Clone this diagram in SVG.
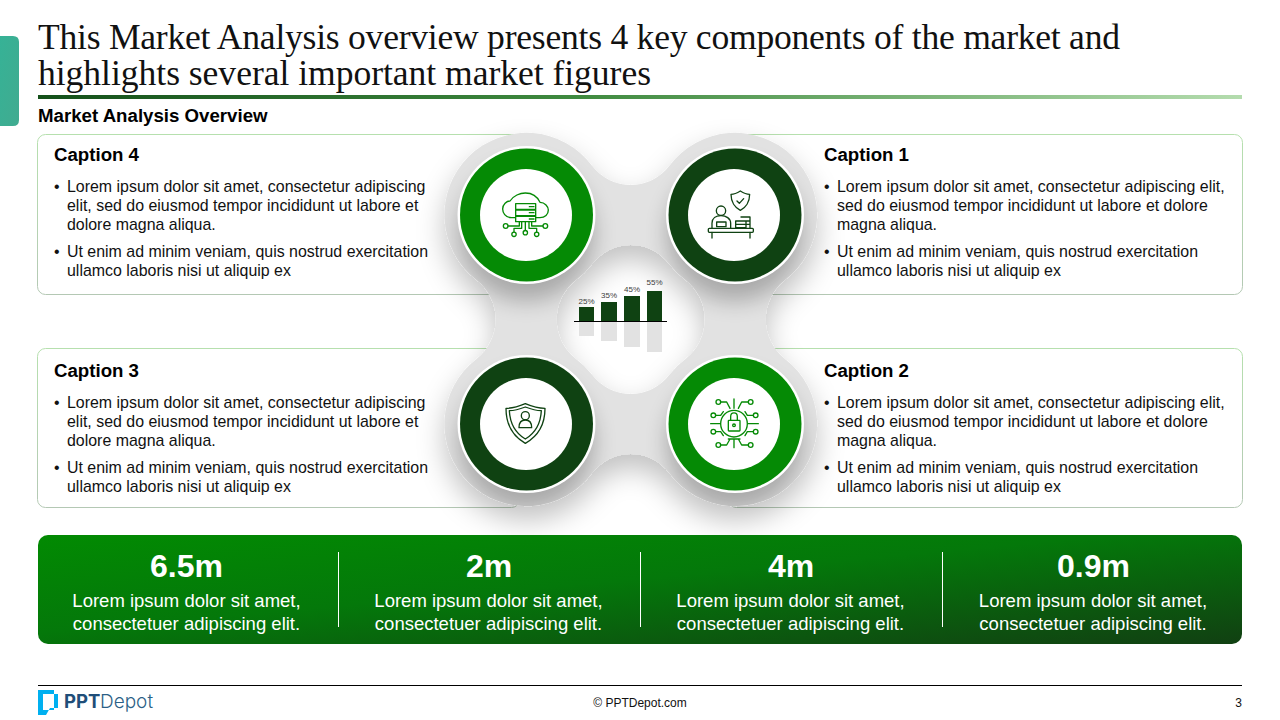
<svg xmlns="http://www.w3.org/2000/svg" width="1280" height="720" viewBox="0 0 1280 720">
<style>
text{font-family:"Liberation Sans",Arial,sans-serif;fill:#111}
.title{font-family:"Liberation Serif","Times New Roman",serif;font-size:35.600px;fill:#111}
.sub{font-size:18.670px;font-weight:700;fill:#000}
.cap{font-size:18.670px;font-weight:700;fill:#000}
.body{font-size:15.930px}
.num{font-size:32px;font-weight:700;fill:#fff;text-anchor:middle}
.stat{font-size:18.500px;fill:#fff;text-anchor:middle}
.pct{font-size:8px;fill:#404040;text-anchor:middle}
.card{fill:#fff;stroke:url(#cardStroke);stroke-width:1}
.bar{fill:#0f4212}
.ref{fill:#e2e2e2}
.sep{stroke:#fff;stroke-width:1}
.ln{fill:none;stroke-width:4;stroke-linejoin:round;stroke-linecap:round}
.g{stroke:#058a05}
.d{stroke:#0f4212}
</style>
<defs>
<linearGradient id="rule" x1="0" x2="1" y1="0" y2="0"><stop offset="0" stop-color="#14501a"/><stop offset=".45" stop-color="#3f8a3f"/><stop offset="1" stop-color="#b4dcae"/></linearGradient>
<linearGradient id="tab" x1="0" x2="1" y1="0" y2="1"><stop offset="0" stop-color="#36b296"/><stop offset="1" stop-color="#41ab90"/></linearGradient>
<linearGradient id="cardStroke" x1="0" x2="0" y1="0" y2="1"><stop offset="0" stop-color="#b6e0ae"/><stop offset="1" stop-color="#b4c8b4"/></linearGradient>
<linearGradient id="band" x1="0" x2="1" y1="0" y2="1"><stop offset="0" stop-color="#028a02"/><stop offset=".45" stop-color="#04780a"/><stop offset="1" stop-color="#114012"/></linearGradient>
<filter id="hubShadow" x="-30%" y="-30%" width="160%" height="170%"><feDropShadow dx="0" dy="14" stdDeviation="14" flood-color="#000" flood-opacity=".24"/></filter>
<filter id="soft" x="-40%" y="-40%" width="180%" height="180%"><feGaussianBlur stdDeviation="11"/></filter>
<clipPath id="hubClip"><path clip-rule="evenodd" d="M592 165.700A48.500 48.500 0 0 0 669.500 165.700A82 82 0 1 1 785.200 279.800A50.200 50.200 0 0 0 785.200 359.200A82 82 0 1 1 669.500 473.300A48.500 48.500 0 0 0 592 473.300A82 82 0 1 1 476.300 359.200A50.200 50.200 0 0 0 476.300 279.800A82 82 0 1 1 592 165.700ZM592 264.300A48.500 48.500 0 0 1 669.500 264.300A82 82 0 0 0 685.300 279.800A50 50 0 0 1 685.300 359.200A82 82 0 0 0 669.500 374.700A48.500 48.500 0 0 1 592 374.700A82 82 0 0 0 576.200 359.200A50 50 0 0 1 576.200 279.800A82 82 0 0 0 592 264.300Z"/></clipPath>
</defs>
<rect width="1280" height="720" fill="#fff"/>
<path d="M0 36H13Q19 36 19 42V120Q19 126 13 126H0Z" fill="url(#tab)"/>
<g id="header">
<text class="title" x="38" y="49" textLength="1082" lengthAdjust="spacing">This Market Analysis overview presents 4 key components of the market and</text>
<text class="title" x="38" y="85" textLength="613" lengthAdjust="spacing">highlights several important market figures</text>
<rect x="38" y="95" width="1204" height="4" fill="url(#rule)"/>
<text class="sub" x="38" y="122">Market Analysis Overview</text>
</g>
<g id="caption-4">
<rect class="card" x="37.500" y="134.500" width="482" height="160" rx="8"/>
<text class="cap" x="54" y="161">Caption 4</text>
<g class="body"><text x="54" y="192">•</text><text x="67" y="192">Lorem ipsum dolor sit amet, consectetur adipiscing</text><text x="67" y="211">elit, sed do eiusmod tempor incididunt ut labore et</text><text x="67" y="230">dolore magna aliqua.</text><text x="54" y="257">•</text><text x="67" y="257">Ut enim ad minim veniam, quis nostrud exercitation</text><text x="67" y="276">ullamco laboris nisi ut aliquip ex</text></g>
</g>
<g id="caption-1">
<rect class="card" x="728.500" y="134.500" width="514" height="160" rx="8"/>
<text class="cap" x="824" y="161">Caption 1</text>
<g class="body"><text x="824" y="192">•</text><text x="837" y="192">Lorem ipsum dolor sit amet, consectetur adipiscing elit,</text><text x="837" y="211">sed do eiusmod tempor incididunt ut labore et dolore</text><text x="837" y="230">magna aliqua.</text><text x="824" y="257">•</text><text x="837" y="257">Ut enim ad minim veniam, quis nostrud exercitation</text><text x="837" y="276">ullamco laboris nisi ut aliquip ex</text></g>
</g>
<g id="caption-3">
<rect class="card" x="37.500" y="348.500" width="482" height="159" rx="8"/>
<text class="cap" x="54" y="377">Caption 3</text>
<g class="body"><text x="54" y="408">•</text><text x="67" y="408">Lorem ipsum dolor sit amet, consectetur adipiscing</text><text x="67" y="427">elit, sed do eiusmod tempor incididunt ut labore et</text><text x="67" y="446">dolore magna aliqua.</text><text x="54" y="473">•</text><text x="67" y="473">Ut enim ad minim veniam, quis nostrud exercitation</text><text x="67" y="492">ullamco laboris nisi ut aliquip ex</text></g>
</g>
<g id="caption-2">
<rect class="card" x="728.500" y="348.500" width="514" height="159" rx="8"/>
<text class="cap" x="824" y="377">Caption 2</text>
<g class="body"><text x="824" y="408">•</text><text x="837" y="408">Lorem ipsum dolor sit amet, consectetur adipiscing elit,</text><text x="837" y="427">sed do eiusmod tempor incididunt ut labore et dolore</text><text x="837" y="446">magna aliqua.</text><text x="824" y="473">•</text><text x="837" y="473">Ut enim ad minim veniam, quis nostrud exercitation</text><text x="837" y="492">ullamco laboris nisi ut aliquip ex</text></g>
</g>
<g id="hub">
<path filter="url(#hubShadow)" fill="#e2e2e2" fill-rule="evenodd" d="M592 165.700A48.500 48.500 0 0 0 669.500 165.700A82 82 0 1 1 785.200 279.800A50.200 50.200 0 0 0 785.200 359.200A82 82 0 1 1 669.500 473.300A48.500 48.500 0 0 0 592 473.300A82 82 0 1 1 476.300 359.200A50.200 50.200 0 0 0 476.300 279.800A82 82 0 1 1 592 165.700ZM592 264.300A48.500 48.500 0 0 1 669.500 264.300A82 82 0 0 0 685.300 279.800A50 50 0 0 1 685.300 359.200A82 82 0 0 0 669.500 374.700A48.500 48.500 0 0 1 592 374.700A82 82 0 0 0 576.200 359.200A50 50 0 0 1 576.200 279.800A82 82 0 0 0 592 264.300Z"/>
<g clip-path="url(#hubClip)"><g filter="url(#soft)" fill="#000" opacity=".25">
<circle cx="526.500" cy="233" r="68"/><circle cx="735" cy="233" r="68"/><circle cx="526.500" cy="442" r="68"/><circle cx="735" cy="442" r="68"/></g></g>
</g>
<g id="chart">
<rect class="bar" x="579" y="307" width="15" height="14"/><rect class="bar" x="601" y="302" width="16" height="19"/><rect class="bar" x="624" y="296" width="16" height="25"/><rect class="bar" x="647" y="291" width="15" height="30"/>
<rect class="ref" x="579" y="322" width="15" height="14"/><rect class="ref" x="601" y="322" width="16" height="19"/><rect class="ref" x="624" y="322" width="16" height="25"/><rect class="ref" x="647" y="322" width="15" height="30"/>
<rect x="574" y="321" width="93" height="1" fill="#000"/>
<text class="pct" x="586.500" y="304">25%</text><text class="pct" x="609" y="297.500">35%</text><text class="pct" x="632" y="291.500">45%</text><text class="pct" x="654.500" y="285">55%</text>
</g>
<g id="ring-4">
<circle cx="526.500" cy="215" r="69" fill="#fff"/><circle cx="526.500" cy="215" r="66.500" fill="#058a05"/><circle cx="526" cy="215" r="46" fill="#fff"/>
<g transform="translate(430 125) scale(.33333)" class="ln g"><path d="M255 278H245C225 278 218 262 218 252C218 238 230 228 240 228C250 212 270 204 286 204C305 204 322 215 330 232C345 232 355 245 355 255C355 268 345 278 330 278H318"/><rect x="257" y="236" width="60" height="17"/><rect x="257" y="255" width="60" height="17"/><rect x="257" y="274" width="60" height="16"/><path d="M298 245H312M298 263H312M298 282H312"/><path d="M268 290V303H235M286 290V316M305 290V303H338M275 290V310H252V321M297 290V310H320V321"/><circle cx="227" cy="303" r="7"/><circle cx="346" cy="303" r="7"/><circle cx="252" cy="328" r="6.500"/><circle cx="286" cy="323" r="6.500"/><circle cx="320" cy="328" r="6.500"/></g>
</g>
<g id="ring-1">
<circle cx="735" cy="215" r="69" fill="#fff"/><circle cx="735" cy="215" r="66.500" fill="#0f4212"/><circle cx="734" cy="215" r="46" fill="#fff"/>
<g transform="translate(430 125) scale(.33333)" class="ln d"><path d="M931 198C920 205 912 208 903 208C903 230 915 248 931 256C947 248 959 230 959 208C950 208 942 205 931 198Z"/><path d="M921 228L928 235L941 221"/><circle cx="873" cy="257" r="14"/><path d="M846 310V295C846 280 858 272 873 272C888 272 902 280 902 295V310"/><rect x="860" y="291" width="28" height="14"/><rect x="835" y="310" width="135" height="12" rx="3"/><path d="M846 322V339M960 322V339"/><path d="M917 288H948V308H917ZM933 276H960V308M917 298H948M948 288H960M948 298H960"/></g>
</g>
<g id="ring-3">
<circle cx="526.500" cy="424" r="69" fill="#fff"/><circle cx="526.500" cy="424" r="66.500" fill="#0f4212"/><circle cx="526" cy="424" r="46" fill="#fff"/>
<g transform="translate(430 125) scale(.33333)" class="ln d"><path d="M286 836C265 845 245 850 228 850C228 900 250 935 286 955C322 935 345 900 345 850C328 850 307 845 286 836Z"/><path d="M286 846C268 853 252 857 238 857C240 895 258 925 286 942C314 925 332 895 334 857C320 857 304 853 286 846Z"/><circle cx="286" cy="872" r="12"/><path d="M267 908C267 892 275 885 286 885C297 885 305 892 305 908Z"/></g>
</g>
<g id="ring-2">
<circle cx="735" cy="424" r="69" fill="#fff"/><circle cx="735" cy="424" r="66.500" fill="#058a05"/><circle cx="734" cy="424" r="46" fill="#fff"/>
<g transform="translate(430 125) scale(.33333)" class="ln g"><circle cx="912" cy="896" r="40"/><rect x="895" y="886" width="35" height="32" rx="2"/><path d="M902 886V875C902 860 922 860 922 875V886"/><circle cx="912" cy="901" r="4"/><path d="M912 822V850M872 831H890L900 850M955 831H935L925 850M857 871H872L880 860M857 920H872L880 932M842 896H870M970 871H952L945 860M970 920H952L945 932M955 896H985M872 960H890L900 942M955 960H935L925 942M912 942V968M895 942H930"/><circle cx="865" cy="831" r="7"/><circle cx="962" cy="831" r="7"/><circle cx="850" cy="871" r="7"/><circle cx="977" cy="871" r="7"/><circle cx="850" cy="920" r="7"/><circle cx="977" cy="920" r="7"/><circle cx="865" cy="960" r="7"/><circle cx="962" cy="960" r="7"/></g>
</g>
<g id="stats">
<rect x="38" y="535" width="1204" height="109" rx="10" fill="url(#band)"/>
<line class="sep" x1="338.500" x2="338.500" y1="552" y2="627"/><line class="sep" x1="640.500" x2="640.500" y1="552" y2="627"/><line class="sep" x1="942.500" x2="942.500" y1="552" y2="627"/>
<text class="num" x="186.500" y="576.500">6.5m</text><text class="stat" x="186.500" y="607">Lorem ipsum dolor sit amet,</text><text class="stat" x="186.500" y="630">consectetuer adipiscing elit.</text>
<text class="num" x="489" y="576.500">2m</text><text class="stat" x="488.500" y="607">Lorem ipsum dolor sit amet,</text><text class="stat" x="488.500" y="630">consectetuer adipiscing elit.</text>
<text class="num" x="791" y="576.500">4m</text><text class="stat" x="790.500" y="607">Lorem ipsum dolor sit amet,</text><text class="stat" x="790.500" y="630">consectetuer adipiscing elit.</text>
<text class="num" x="1093.500" y="576.500">0.9m</text><text class="stat" x="1093" y="607">Lorem ipsum dolor sit amet,</text><text class="stat" x="1093" y="630">consectetuer adipiscing elit.</text>
</g>
<g id="footer">
<rect x="38" y="685" width="1204" height="1" fill="#000"/>
<path fill="#00b0f0" d="M38 690H54V694H43V710H46V715H38ZM54 694H58V708H50L46 715V710H54Z"/>
<text x="64" y="708" style="font-family:Inter,'Liberation Sans',sans-serif;font-size:18.500px;font-weight:700;fill:#1f4e79">PPT</text>
<text x="100" y="708" style="font-family:Inter,'Liberation Sans',sans-serif;font-size:19px;font-weight:300;fill:#2b5f86">Depot</text>
<text x="640" y="707" text-anchor="middle" font-size="12">© PPTDepot.com</text>
<text x="1242" y="707" text-anchor="end" font-size="12">3</text>
</g>
</svg>
